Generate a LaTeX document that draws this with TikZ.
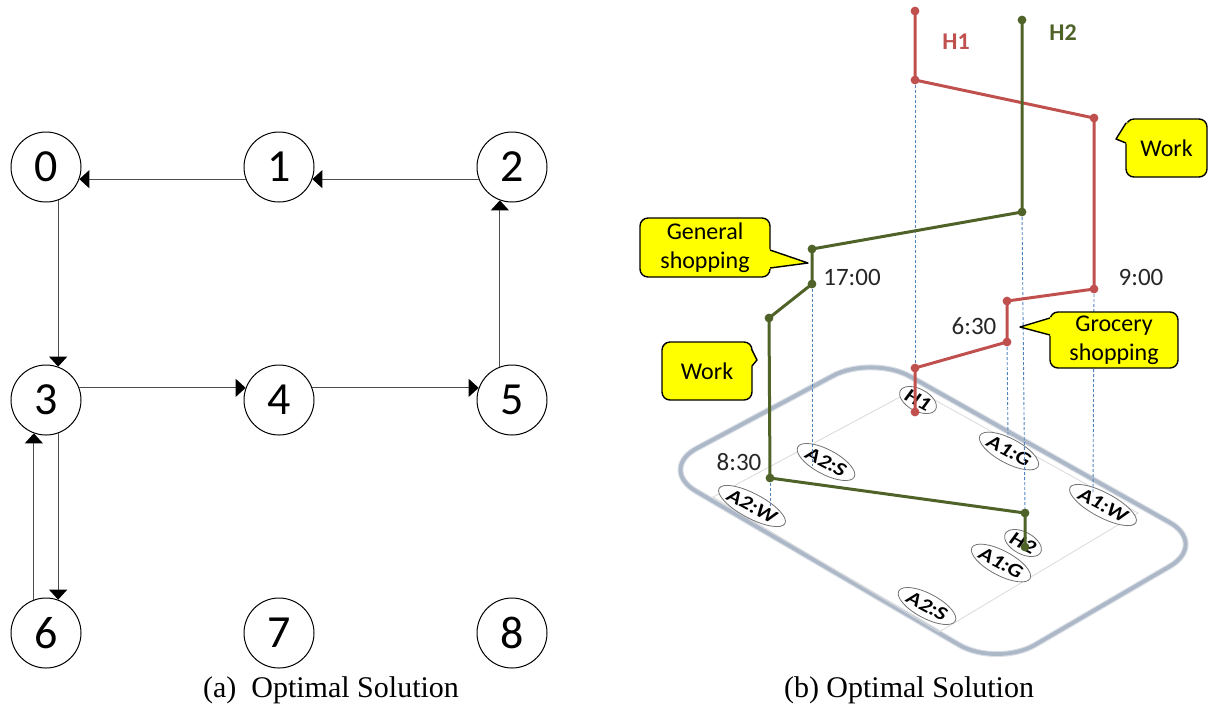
\documentclass[tikz,border=0pt]{standalone}
\usepackage{fontspec}
\setmainfont{Carlito}
\newfontfamily\captionfont{Liberation Serif}
\usetikzlibrary{arrows.meta,shapes.geometric}

\definecolor{hred}{RGB}{192,80,77}
\definecolor{hgreen}{RGB}{79,98,40}
\definecolor{dropblue}{RGB}{79,129,189}
\definecolor{floorline}{RGB}{172,184,200}
\definecolor{floorgrid}{RGB}{218,218,218}
\definecolor{tagyellow}{RGB}{255,255,0}

\begin{document}
\begin{tikzpicture}[x=0.5pt,y=-0.5pt,
  state/.style={circle,draw=black,line width=0.5pt,minimum size=35pt,inner sep=0pt,
    font=\fontsize{23}{27}\selectfont},
  flow/.style={draw=black!70,line width=0.6pt,-{Triangle[length=5pt,width=9pt,black]}},
  caption/.style={font=\captionfont\fontsize{15}{18}\selectfont},
  route/.style={line width=1.5pt,line join=round,line cap=round},
  drop/.style={dropblue,line width=0.45pt,dash pattern=on 1.6pt off 0.9pt},
  spot/.style={ellipse,draw=black!55,fill=white,line width=0.4pt,inner sep=0pt,
    minimum width=32pt,minimum height=14.5pt,transform shape,
    cm={0.883,-0.469,0.40,0.75,(0,0)},
    font=\bfseries\itshape\fontsize{11.5}{11.5}\selectfont},
  homespot/.style={spot,minimum width=20pt,minimum height=13pt},
  tag/.style={rectangle,fill=tagyellow,draw=black,line width=0.7pt,rounded corners=4pt,
    inner sep=0pt,align=center,font=\fontsize{12}{14.5}\selectfont},
  tagedge/.style={draw=black,line width=0.7pt,line join=round},
  clock/.style={font=\fontsize{12.5}{15}\selectfont,text=black!85,inner sep=0pt},
  hlabel/.style={font=\bfseries\fontsize{12}{14}\selectfont,inner sep=0pt},
]
\useasboundingbox (0,0) rectangle (1209,709);

% ---------------- (a) grid of locations ----------------
\node[state] (n0) at (46,167) {0};
\node[state] (n1) at (279,167) {1};
\node[state] (n2) at (512,167) {2};
\node[state] (n3) at (46,400) {3};
\node[state] (n4) at (279,400) {4};
\node[state] (n5) at (512,400) {5};
\node[state] (n6) at (46,633) {6};
\node[state] (n7) at (279,633) {7};
\node[state] (n8) at (512,633) {8};

\draw[flow] (n2.200) -- (n1.340);
\draw[flow] (n1.200) -- (n0.340);
\draw[flow] (n0.290) -- (n3.70);
\draw[flow] (n3.20) -- (n4.160);
\draw[flow] (n4.20) -- (n5.160);
\draw[flow] (n5.110) -- (n2.250);
\draw[flow] (n3.290) -- (n6.70);
\draw[flow] (n6.110) -- (n3.250);

\node[caption] (capA) at (331,690) {(a)\ \ Optimal Solution};

% ---------------- (b) space-time paths ----------------
% floor plate
\draw[floorline!45,line width=3pt,rounded corners=22pt]
  (658,469) -- (872,355) -- (1208,544) -- (997,667) -- cycle;
\draw[floorline,line width=1.9pt,rounded corners=22pt]
  (658,469) -- (872,355) -- (1208,544) -- (997,667) -- cycle;
\draw[floorgrid,line width=0.4pt] (713,497) -- (915,389) -- (1138,513) -- (939,632) -- cycle;

% activity locations on the floor
\node[homespot] (sH1) at (918,400) {H1};
\node[spot] (sA2Sa) at (826,462) {A2:S};
\node[spot] (sA1Ga) at (1009,451) {A1:G};
\node[spot] (sA2W) at (752,506) {A2:W};
\node[spot] (sA1W) at (1103,505) {A1:W};
\node[homespot] (sH2) at (1023,543) {H2};
\node[spot] (sA1Gb) at (1001,563) {A1:G};
\node[spot] (sA2Sb) at (927,606) {A2:S};

% path points of H1
\coordinate (r1) at (915,11);
\coordinate (r2) at (915,80);
\coordinate (r3) at (1094,118);
\coordinate (r4) at (1094,289);
\coordinate (r5) at (1007,301);
\coordinate (r6) at (1007,342);
\coordinate (r7) at (915,368);
\coordinate (r8) at (915,412);
% path points of H2
\coordinate (g1) at (1022,20);
\coordinate (g2) at (1022,212);
\coordinate (g3) at (812,249);
\coordinate (g4) at (812,284);
\coordinate (g5) at (769,318);
\coordinate (g6) at (770,478);
\coordinate (g7) at (1025,513);
\coordinate (g8) at (1025,547);
% feet of the projection lines
\coordinate (fA2S) at (812,466);
\coordinate (fA1W) at (1093,492);
\coordinate (fA1G) at (1008,438);
\coordinate (fA2W) at (770,508);

% projection lines
\draw[drop] (r2) -- (r7);
\draw[drop] (g2) -- (g7);
\draw[drop] (g4) -- (fA2S);
\draw[drop] (r4) -- (fA1W);
\draw[drop] (r6) -- (fA1G);
\draw[drop] (g6) -- (fA2W);

% trajectories
\draw[route,hred] (r1) -- (r2) -- (r3) -- (r4) -- (r5) -- (r6) -- (r7) -- (r8);
\draw[route,hgreen] (g1) -- (g2) -- (g3) -- (g4) -- (g5) -- (g6) -- (g7) -- (g8);
\foreach \p in {r1,r2,r3,r4,r5,r6,r7,r8} \fill[hred] (\p) circle (2.2pt);
\foreach \p in {g1,g2,g3,g4,g5,g6,g7,g8} \fill[hgreen] (\p) circle (2.2pt);

\node[hlabel,text=hred] (lH1) at (956,42) {H1};
\node[hlabel,text=hgreen] (lH2) at (1063,33) {H2};

% times
\node[clock] (t1700) at (852,277) {17:00};
\node[clock] (t900) at (1141,277) {9:00};
\node[clock] (t630) at (974,326) {6:30};
\node[clock] (t830) at (739,462) {8:30};

% callouts
\node[tag,minimum width=40.5pt,minimum height=29pt] (cWorkR) at (1166.5,148) {Work};
\fill[tagyellow] (1127.5,122) -- (1116,139) -- (1127.5,144) -- cycle;
\draw[tagedge] (1126,123) -- (1116,139) -- (1126,143);

\node[tag,minimum width=65pt,minimum height=29.5pt] (cGen) at (705,247.5) {General\\shopping};
\fill[tagyellow] (768.5,249) -- (808,263) -- (768.5,269) -- cycle;
\draw[tagedge] (770,250) -- (808,263) -- (770,268);

\node[tag,minimum width=64pt,minimum height=28pt] (cGro) at (1114,340) {Grocery\\shopping};
\fill[tagyellow] (1051.5,317) -- (1020,327) -- (1051.5,336) -- cycle;
\draw[tagedge] (1050,318) -- (1020,327) -- (1050,335);

\node[tag,minimum width=45pt,minimum height=29pt] (cWorkL) at (707,371) {Work};
\fill[tagyellow] (750.5,349) -- (757,360) -- (750.5,367) -- cycle;
\draw[tagedge] (752,350) -- (757,360) -- (752,366);

\node[caption] (capB) at (909,690) {(b) Optimal Solution};
\end{tikzpicture}
\end{document}
